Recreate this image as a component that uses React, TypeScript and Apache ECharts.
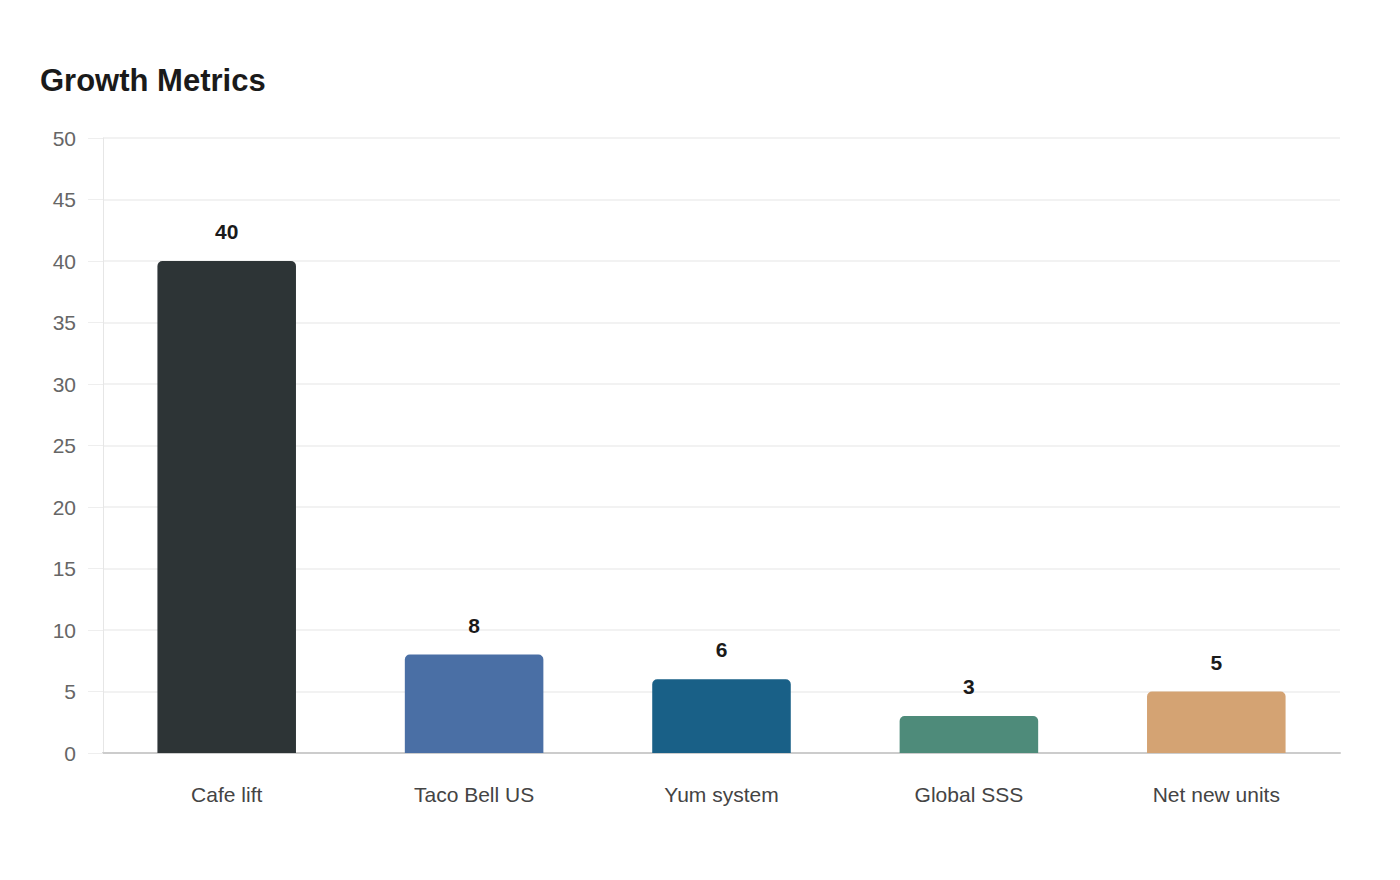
import { useEffect, useRef } from 'react';
import * as echarts from 'echarts';

const categories = ['Cafe lift', 'Taco Bell US', 'Yum system', 'Global SSS', 'Net new units'];
const values = [40, 8, 6, 3, 5];
const barColors = ['#2d3436', '#4a6fa5', '#196087', '#4e8b7a', '#d4a373'];

const FONT = '"Liberation Sans", Arial, sans-serif';

export default function App() {
  const containerRef = useRef<HTMLDivElement>(null);

  useEffect(() => {
    if (!containerRef.current) return;
    const chart = echarts.init(containerRef.current, null, { renderer: 'svg' });

    const option: echarts.EChartsOption = {
      backgroundColor: '#ffffff',
      animation: false,
      textStyle: { fontFamily: FONT },
      title: {
        text: 'Growth Metrics',
        left: 35,
        top: 60,
        textStyle: { fontFamily: FONT, fontSize: 31, fontWeight: 'bold', color: '#1a1a1a' },
      },
      grid: { left: 103, right: 60, top: 138, bottom: 127 },
      xAxis: {
        type: 'category',
        data: categories,
        axisLine: { lineStyle: { color: '#cccccc', width: 2 } },
        axisTick: { show: false },
        axisLabel: { color: '#444444', fontSize: 21, margin: 31, fontFamily: FONT },
      },
      yAxis: {
        type: 'value',
        min: 0,
        max: 50,
        interval: 5,
        axisLine: { show: true, lineStyle: { color: '#e6e6e6' } },
        axisTick: { show: true, length: 15, lineStyle: { color: '#eeeeee' } },
        axisLabel: { color: '#666666', fontSize: 21, margin: 27, fontFamily: FONT },
        splitLine: { lineStyle: { color: '#eeeeee', width: 1.5 } },
      },
      series: [
        {
          type: 'bar',
          barWidth: '56%',
          data: values.map((v, i) => ({ value: v, itemStyle: { color: barColors[i] } })),
          itemStyle: { borderRadius: [5, 5, 0, 0] },
          label: {
            show: true,
            position: 'top',
            distance: 19,
            color: '#1a1a1a',
            fontSize: 21,
            fontWeight: 'bold',
            fontFamily: FONT,
          },
        },
      ],
    };

    chart.setOption(option);
    return () => {
      chart.dispose();
    };
  }, []);

  return (
    <div
      ref={containerRef}
      style={{ position: 'absolute', left: 0, top: 0, width: 1400, height: 880 }}
    />
  );
}
